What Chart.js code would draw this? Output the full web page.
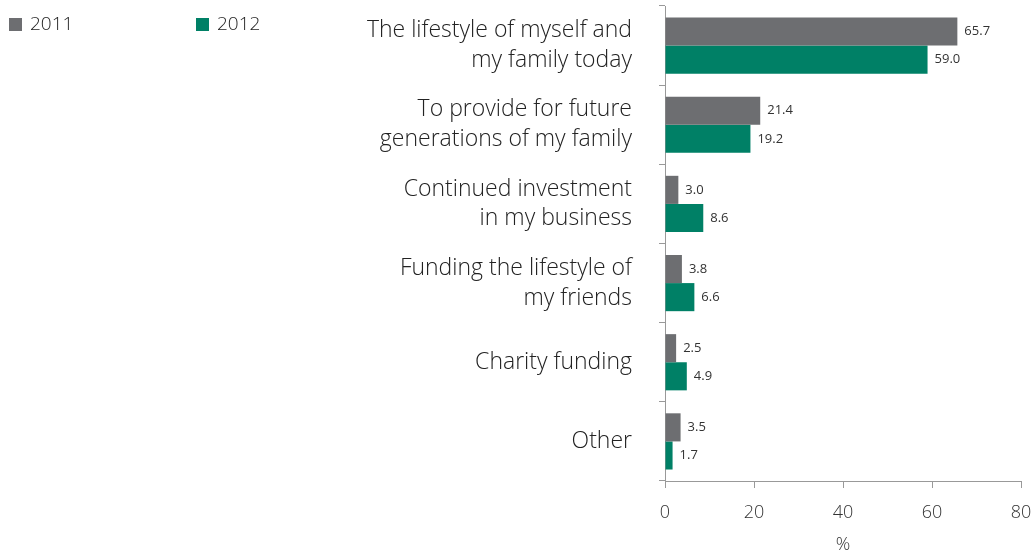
<!DOCTYPE html>
<html>
<head>
<meta charset="utf-8">
<script src="https://cdn.jsdelivr.net/npm/chart.js@4"></script>
<style>
  html, body { margin: 0; padding: 0; background: #fff; }
  #wrap { position: relative; width: 1036px; height: 556px; }
  #legend { position: absolute; left: 9px; top: 10px; font-family: "Open Sans", sans-serif; font-weight: 300; font-size: 19px; color: #222; }
  #legend span.item { position: absolute; white-space: nowrap; top: 0; }
  #legend span.box { display: inline-block; width: 13px; height: 13px; margin-right: 8px; vertical-align: -1px; }
</style>
</head>
<body>
<div id="wrap">
  <div id="legend"></div>
  <canvas id="chart" width="1036" height="556"></canvas>
</div>
<script>
// Survey answers, in percent
const categories = [
  ['The lifestyle of myself and', 'my family today'],
  ['To provide for future', 'generations of my family'],
  ['Continued investment', 'in my business'],
  ['Funding the lifestyle of', 'my friends'],
  'Charity funding',
  'Other'
];
const values2011 = [65.7, 21.4, 3.0, 3.8, 2.5, 3.5];
const values2012 = [59.0, 19.2, 8.6, 6.6, 4.9, 1.7];
const xTicks = [0, 20, 40, 60, 80];

const GREY = '#6d6e71';
const GREEN = '#008066';
const FONT = '"Open Sans", sans-serif';

// Value labels drawn just past the end of each bar
const barValueLabels = {
  id: 'barValueLabels',
  afterDatasetsDraw(chart) {
    const ctx = chart.ctx;
    ctx.save();
    ctx.font = '400 13px ' + FONT;
    ctx.fillStyle = '#333';
    ctx.textBaseline = 'middle';
    ctx.textAlign = 'left';
    chart.data.datasets.forEach((ds, i) => {
      chart.getDatasetMeta(i).data.forEach((bar, j) => {
        ctx.fillText(ds.data[j].toFixed(1), bar.x + 7, bar.y);
      });
    });
    ctx.restore();
  }
};

const ctx = document.getElementById('chart').getContext('2d');
const chart = new Chart(ctx, {
  type: 'bar',
  data: {
    labels: categories,
    datasets: [
      { label: '2011', data: values2011, backgroundColor: GREY, categoryPercentage: 0.71, barPercentage: 1 },
      { label: '2012', data: values2012, backgroundColor: GREEN, categoryPercentage: 0.71, barPercentage: 1 }
    ]
  },
  options: {
    indexAxis: 'y',
    responsive: false,
    animation: false,
    layout: { padding: { top: 6, right: 15, bottom: 0, left: 0 } },
    plugins: {
      legend: { display: false },
      tooltip: { enabled: false }
    },
    scales: {
      x: {
        min: 0,
        max: 80,
        afterBuildTicks(scale) { scale.ticks = xTicks.map(v => ({ value: v })); },
        afterFit(scale) {
          scale.height = 75;
          scale.paddingLeft = 0;
          scale.paddingRight = 0;
        },
        grid: { drawOnChartArea: false, drawTicks: true, tickLength: 7, color: '#999' },
        border: { color: '#999', width: 1 },
        ticks: { color: '#333', padding: 14, font: { family: FONT, size: 18, weight: '300' } },
        title: { display: true, text: '%', color: '#333', padding: { top: 4, bottom: 0 }, font: { family: FONT, size: 18, weight: '300' } }
      },
      y: {
        afterFit(scale) {
          scale.width = 665;
          scale.paddingTop = 0;
          scale.paddingBottom = 0;
        },
        grid: { drawOnChartArea: false, drawTicks: true, tickLength: 6, color: '#999' },
        border: { color: '#999', width: 1 },
        ticks: { color: '#222', padding: 27, font: { family: FONT, size: 23, weight: '300', lineHeight: 1.3 } }
      }
    }
  },
  plugins: [barValueLabels]
});

// Legend above the labels, built from the datasets
const legend = document.getElementById('legend');
const legendX = [0, 187];
chart.data.datasets.forEach((ds, i) => {
  const item = document.createElement('span');
  item.className = 'item';
  item.style.left = legendX[i] + 'px';
  item.innerHTML = '<span class="box" style="background:' + ds.backgroundColor + '"></span>' + ds.label;
  legend.appendChild(item);
});
</script>
</body>
</html>
